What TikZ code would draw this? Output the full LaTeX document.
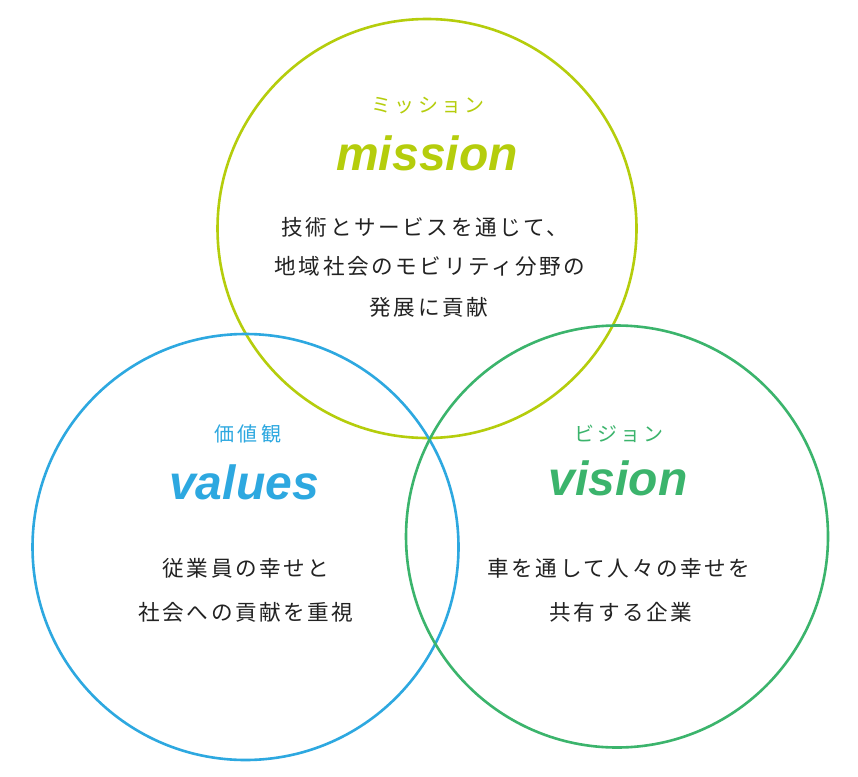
\documentclass[tikz,border=0pt]{standalone}
\usepackage{fontspec}
\newfontfamily\jpfont{Noto Sans CJK JP}
\newfontfamily\jpspaced{Noto Sans CJK JP}[LetterSpace=12]
\newfontfamily\jplabel{Noto Sans CJK JP}[LetterSpace=16]
\newfontfamily\enfont{Liberation Sans}
\definecolor{cmission}{HTML}{B5CD0C}
\definecolor{cvalues}{HTML}{2DA8E0}
\definecolor{cvision}{HTML}{3BB46C}
\definecolor{ctext}{HTML}{222222}
\tikzset{
  ring/.style={draw, circle, line width=2.6pt, inner sep=0pt},
  word/.style={font=\enfont\bfseries\itshape\fontsize{48}{48}\selectfont, anchor=base, inner sep=0pt},
  kana/.style={font=\jplabel\fontsize{20}{20}\selectfont, inner sep=0pt},
  body/.style={font=\jpspaced\fontsize{21.6}{21.6}\selectfont, text=ctext, inner sep=0pt}
}
\begin{document}
\begin{tikzpicture}[x=1pt,y=-1pt]
\useasboundingbox (0,0) rectangle (858,776);
\fill[white] (0,0) rectangle (858,776);
\node[ring, cmission, minimum size=419pt] (cm) at (427,228.5) {};
\node[ring, cvalues, minimum size=426pt] (cv) at (245.5,547) {};
\node[ring, cvision, minimum size=422pt] (cs) at (617,536.5) {};
% mission
\node[kana, text=cmission] (km) at (428,106) {ミッション};
\node[word, text=cmission] (wm) at (427,170) {mission};
\node[body] (m1) at (425,227) {技術とサービスを通じて、};
\node[body] (m2) at (430,266) {地域社会のモビリティ分野の};
\node[body] (m3) at (429,307) {発展に貢献};
% values
\node[kana, text=cvalues] (kv) at (248,434) {価値観};
\node[word, text=cvalues] (wv) at (244,499) {values};
\node[body] (v1) at (246,568) {従業員の幸せと};
\node[body] (v2) at (246,612) {社会への貢献を重視};
% vision
\node[kana, text=cvision] (ks) at (619,434) {ビジョン};
\node[word, text=cvision] (ws) at (618,495) {vision};
\node[body] (s1) at (619,568) {車を通して人々の幸せを};
\node[body] (s2) at (621,612) {共有する企業};
\end{tikzpicture}
\end{document}
